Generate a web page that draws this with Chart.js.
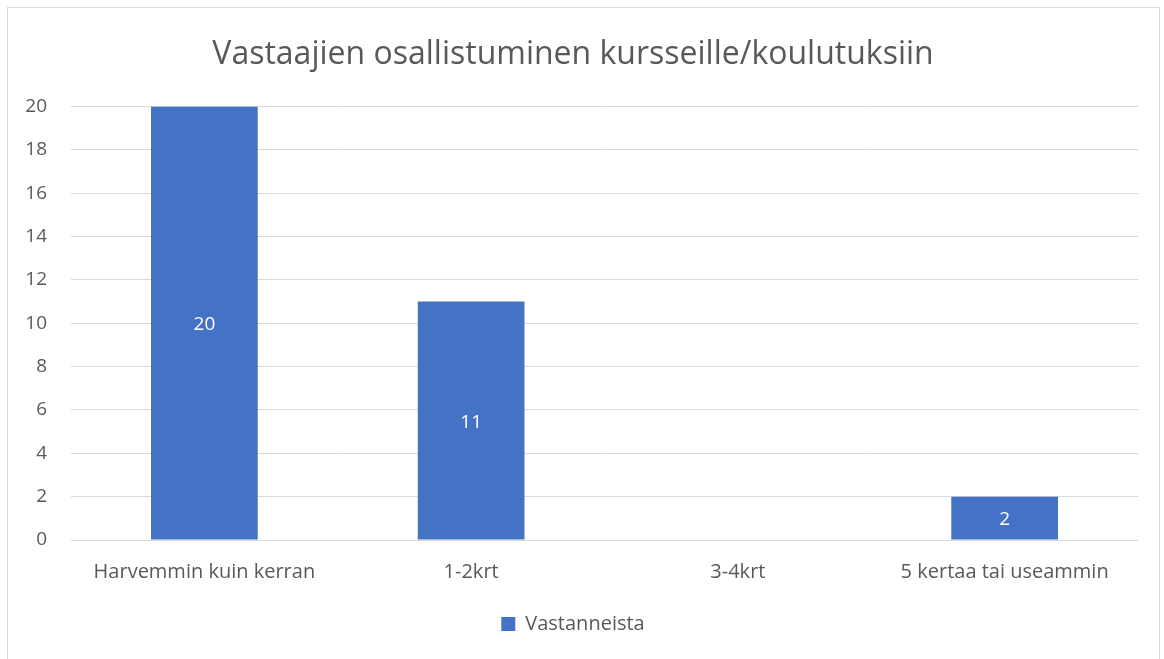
<!DOCTYPE html>
<html>
<head>
<meta charset="utf-8">
<script src="https://cdn.jsdelivr.net/npm/chart.js@4"></script>
<style>
  body { margin: 0; background: #fff; }
  #kehys { position: absolute; left: 7px; top: 7px; width: 1151px; height: 660px; border: 1px solid #d9d9d9; }
  canvas { display: block; }
</style>
</head>
<body>
<div id="kehys"><canvas id="grafiikka" width="1151" height="651"></canvas></div>
<script>
// Kaavion tiedot
const otsikko = 'Vastaajien osallistuminen kursseille/koulutuksiin';
const kategoriat = ['Harvemmin kuin kerran', '1-2krt', '3-4krt', '5 kertaa tai useammin'];
const vastanneista = [20, 11, 0, 2];
const sarjanNimi = 'Vastanneista';

const fontti = 'Open Sans, sans-serif';
const harmaa = '#595959';

// Arvot palkkien keskelle
const arvoTekstit = {
  id: 'arvoTekstit',
  afterDatasetsDraw(chart) {
    const ctx = chart.ctx;
    const meta = chart.getDatasetMeta(0);
    ctx.save();
    ctx.fillStyle = '#ffffff';
    ctx.font = '19px ' + fontti;
    ctx.textAlign = 'center';
    ctx.textBaseline = 'middle';
    meta.data.forEach((bar, i) => {
      const arvo = vastanneista[i];
      if (!arvo) return;
      ctx.fillText(String(arvo), bar.x, (bar.y + bar.base) / 2 + 2);
    });
    ctx.restore();
  }
};

new Chart(document.getElementById('grafiikka').getContext('2d'), {
  type: 'bar',
  data: {
    labels: kategoriat,
    datasets: [{
      label: sarjanNimi,
      data: vastanneista,
      backgroundColor: '#4472c4',
      barPercentage: 0.4,
      categoryPercentage: 1.0
    }]
  },
  options: {
    responsive: false,
    animation: false,
    layout: { padding: { left: 0, right: 21, top: 0, bottom: 15 } },
    plugins: {
      title: {
        display: true,
        text: otsikko,
        color: harmaa,
        font: { family: fontti, size: 32, weight: 'normal' },
        padding: { top: 28, bottom: 32 }
      },
      legend: {
        position: 'bottom',
        labels: {
          color: harmaa,
          font: { family: fontti, size: 20 },
          boxWidth: 14,
          boxHeight: 14,
          padding: 10
        }
      },
      tooltip: { enabled: false }
    },
    scales: {
      x: {
        grid: { display: false, drawTicks: false },
        border: { display: false },
        ticks: { color: harmaa, font: { family: fontti, size: 20 }, padding: 20, maxRotation: 0 },
        afterFit(scale) { scale.height = 64; }
      },
      y: {
        min: 0,
        max: 20,
        ticks: { stepSize: 2, color: harmaa, font: { family: fontti, size: 19 }, padding: 24 },
        grid: { color: '#d9d9d9', lineWidth: 1, drawTicks: false },
        border: { display: false },
        afterFit(scale) { scale.width = 63; }
      }
    }
  },
  plugins: [arvoTekstit]
});
</script>
</body>
</html>
